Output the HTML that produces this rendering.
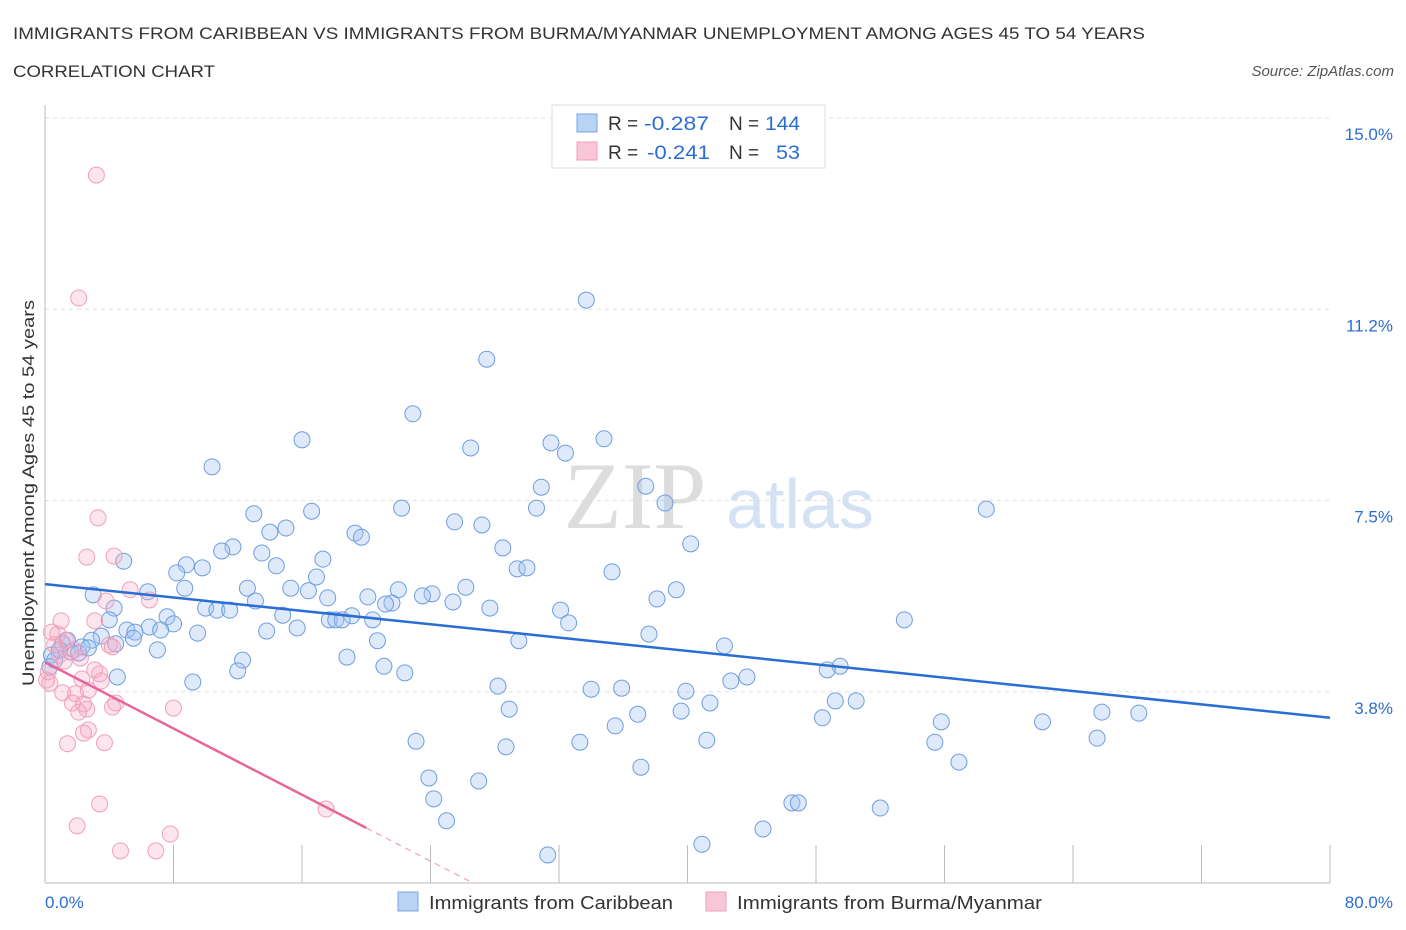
<!DOCTYPE html>
<html><head><meta charset="utf-8"><style>
body{margin:0;background:#fff;font-family:"Liberation Sans",sans-serif;}
svg{display:block}
</style></head><body>
<svg id="chart" width="1406" height="930">
<text x="13" y="39" font-size="17" fill="#333" textLength="1132" lengthAdjust="spacingAndGlyphs">IMMIGRANTS FROM CARIBBEAN VS IMMIGRANTS FROM BURMA/MYANMAR UNEMPLOYMENT AMONG AGES 45 TO 54 YEARS</text>
<text x="13" y="77" font-size="17" fill="#333" textLength="202" lengthAdjust="spacingAndGlyphs">CORRELATION CHART</text>
<text x="1394" y="76" font-size="15" fill="#555" font-style="italic" text-anchor="end">Source: ZipAtlas.com</text>
<text x="635" y="528" font-size="95" fill="#ddd" font-family="Liberation Serif" text-anchor="middle">ZIP</text>
<text x="800" y="528" font-size="70" fill="#d4e2f4" text-anchor="middle">atlas</text>
<g id="grid"></g><g id="axes"></g><g id="pts"></g><g id="trend"></g>
<g>
<rect x="552" y="105" width="273" height="63" fill="#fff" stroke="#ddd"/>
<rect x="577" y="114" width="20" height="18" fill="#b9d3f5" stroke="#7ba6e0"/>
<rect x="577" y="142" width="20" height="18" fill="#f8c6d6" stroke="#eea2bb"/>
<text x="608" y="130" font-size="19" fill="#333">R =</text>
<text x="644" y="130" font-size="19" fill="#2a6dd4" textLength="65" lengthAdjust="spacingAndGlyphs">-0.287</text>
<text x="729" y="130" font-size="19" fill="#333">N =</text>
<text x="765" y="130" font-size="19" fill="#2a6dd4" textLength="35" lengthAdjust="spacingAndGlyphs">144</text>
<text x="608" y="159" font-size="19" fill="#333">R =</text>
<text x="647" y="159" font-size="19" fill="#2a6dd4" textLength="63" lengthAdjust="spacingAndGlyphs">-0.241</text>
<text x="729" y="159" font-size="19" fill="#333">N =</text>
<text x="776" y="159" font-size="19" fill="#2a6dd4" textLength="24" lengthAdjust="spacingAndGlyphs">53</text>
</g>
<g>
<rect x="398" y="892" width="20" height="19" fill="#b9d3f5" stroke="#7ba6e0"/>
<text x="429" y="909" font-size="18" fill="#333" textLength="244" lengthAdjust="spacingAndGlyphs">Immigrants from Caribbean</text>
<rect x="706" y="892" width="20" height="19" fill="#f8c6d6" stroke="#eea2bb"/>
<text x="737" y="909" font-size="18" fill="#333" textLength="305" lengthAdjust="spacingAndGlyphs">Immigrants from Burma/Myanmar</text>
</g>
<text transform="translate(34,493) rotate(-90)" font-size="17" fill="#333" text-anchor="middle" textLength="386" lengthAdjust="spacingAndGlyphs">Unemployment Among Ages 45 to 54 years</text>
</svg>
<script>
const yTicks=[3.75,7.5,11.25,15];
const yTickLabels=["3.8%","7.5%","11.2%","15.0%"];
const xTickLabels=["0.0%","80.0%"];
const blueX=[33.7,27.5,22.9,16.0,31.5,34.8,26.5,32.4,10.4,37.4,30.9,38.6,22.2,58.6,13.0,16.6,25.5,27.2,15.0,14.0,30.6,19.3,19.7,40.2,28.5,11.7,11.0,13.5,4.9,17.3,8.8,9.8,14.4,8.2,29.4,30.0,35.3,16.9,12.6,26.2,8.7,15.3,22.0,24.1,39.3,3.0,6.4,16.4,23.5,25.4,17.6,20.1,21.6,21.2,13.1,38.1,4.3,10.0,10.7,11.5,27.7,32.1,7.6,14.8,17.7,18.1,19.1,18.5,20.4,53.5,4.0,32.6,8.0,6.5,5.1,5.6,7.2,9.5,13.8,15.7,37.6,3.5,2.9,5.5,20.7,29.5,42.3,2.3,1.1,1.4,4.4,7.0,49.5,48.7,18.8,12.3,21.1,12.0,22.4,4.5,9.2,43.7,42.7,28.2,34.0,35.9,39.9,49.2,50.5,41.4,28.9,36.9,39.6,48.4,55.8,62.1,65.8,68.1,35.5,23.1,41.2,33.3,55.4,65.5,28.7,23.9,27.0,37.1,56.9,24.2,46.5,46.9,52.0,25.0,44.7,40.9,31.3,0.4,0.6,1.6,2.1,2.7,0.3,0.9];
const blueY=[11.43,10.27,9.20,8.69,8.63,8.71,8.53,8.43,8.16,7.78,7.76,7.45,7.35,7.33,7.24,7.29,7.08,7.02,6.96,6.88,7.35,6.86,6.78,6.65,6.57,6.59,6.51,6.47,6.31,6.35,6.24,6.18,6.22,6.08,6.16,6.18,6.10,6.00,5.78,5.80,5.78,5.78,5.75,5.67,5.75,5.65,5.71,5.73,5.63,5.51,5.59,5.61,5.49,5.47,5.53,5.57,5.39,5.39,5.35,5.35,5.39,5.35,5.22,5.25,5.16,5.16,5.24,5.16,5.16,5.16,5.16,5.10,5.08,5.02,4.96,4.92,4.96,4.90,4.94,5.00,4.88,4.84,4.76,4.80,4.75,4.75,4.65,4.63,4.69,4.76,4.69,4.57,4.25,4.18,4.43,4.37,4.25,4.16,4.12,4.04,3.94,4.04,3.96,3.86,3.80,3.82,3.76,3.57,3.57,3.53,3.41,3.31,3.37,3.24,3.16,3.16,3.35,3.33,3.08,2.78,2.80,2.76,2.76,2.84,2.67,2.06,2.00,2.27,2.37,1.65,1.57,1.57,1.47,1.22,1.06,0.76,0.55,4.47,4.37,4.53,4.51,4.61,4.24,4.57];
const pinkX=[3.2,2.1,3.3,2.6,4.3,5.3,6.5,3.8,1.0,3.1,0.4,0.8,1.3,0.6,1.8,0.9,2.2,1.2,4.0,4.2,3.1,3.4,0.2,2.3,3.5,0.3,1.1,2.7,1.9,1.7,2.4,4.4,2.6,4.2,8.0,2.1,2.7,2.4,1.4,3.7,3.4,17.5,2.0,7.8,4.7,6.9,0.1];
const pinkY=[13.88,11.47,7.16,6.39,6.41,5.75,5.55,5.53,5.14,5.14,4.92,4.88,4.76,4.67,4.57,4.47,4.41,4.35,4.67,4.63,4.18,4.10,4.14,4.00,3.96,3.92,3.73,3.78,3.71,3.53,3.51,3.53,3.41,3.45,3.43,3.35,3.00,2.94,2.73,2.75,1.55,1.45,1.12,0.96,0.63,0.63,3.98];
const blueTrend=[5.86,3.24];
const pinkTrend=[4.33,1.08];
const NS="http://www.w3.org/2000/svg";
const X0=45,X1=1330,YB=883,PX=(X1-X0)/80,PY=51;
const sx=v=>X0+v*PX, sy=v=>YB-v*PY;
function mk(tag,attrs,parent){const e=document.createElementNS(NS,tag);for(const k in attrs)e.setAttribute(k,attrs[k]);document.getElementById(parent).appendChild(e);return e;}
yTicks.forEach((t,i)=>{
 const g=mk('line',{x1:X0,x2:X1,y1:sy(t),y2:sy(t),stroke:'#ddd','stroke-dasharray':'4,4'},'grid');
 
 
 const l=mk('text',{x:1393,y:sy(t)+22,'font-size':17,fill:'#2a6dd4','text-anchor':'end'},'axes');
 l.textContent=yTickLabels[i];
 
 
});
const ax=mk('line',{x1:X0,x2:X0,y1:105,y2:883,stroke:'#bbb'},'axes');


const bx=mk('line',{x1:X0,x2:X1,y1:883,y2:883,stroke:'#bbb'},'axes');


for(let i=0;i<=10;i++){const t=mk('line',{x1:sx(i*8),x2:sx(i*8),y1:845,y2:883,stroke:'#bbb'},'axes');
 
 }
[[0,'start',45],[80,'end',1393]].forEach((d,i)=>{const l=mk('text',{x:d[2],y:908,'font-size':17,fill:'#2a6dd4','text-anchor':d[1]},'axes');l.textContent=xTickLabels[i];
 
 });
blueX.forEach((v,i)=>{const c=mk('circle',{cx:sx(v),cy:sy(blueY[i]),r:8,fill:'rgba(160,195,240,0.35)',stroke:'#6f9de0','stroke-width':1},'pts');
 
 });
pinkX.forEach((v,i)=>{const c=mk('circle',{cx:sx(v),cy:sy(pinkY[i]),r:8,fill:'rgba(245,170,195,0.3)',stroke:'#f0a0b8','stroke-width':1},'pts');
 
 });
const bt=mk('line',{x1:sx(0),y1:sy(blueTrend[0]),x2:sx(80),y2:sy(blueTrend[1]),stroke:'#2a6dd4','stroke-width':2.5},'trend');


const slope=(pinkTrend[1]-pinkTrend[0])/20, xz=-pinkTrend[0]/slope;
const pt=mk('line',{x1:sx(0),y1:sy(pinkTrend[0]),x2:sx(20),y2:sy(pinkTrend[1]),stroke:'#e8659a','stroke-width':2.5},'trend');


const pd=mk('line',{x1:sx(20),y1:sy(pinkTrend[1]),x2:sx(xz),y2:sy(0),stroke:'#f0a0b8','stroke-width':1.2,'stroke-dasharray':'6,5'},'trend');


</script>
</body></html>
